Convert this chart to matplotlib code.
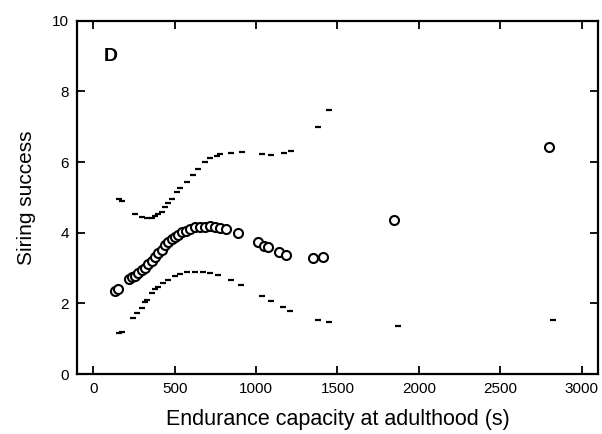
import matplotlib
matplotlib.use("Agg")
import matplotlib.pyplot as plt

plt.rcParams["font.family"] = ["Liberation Sans", "DejaVu Sans"]

# fitted siring success (circles)
fit_x = [135, 154, 221, 240, 258, 277, 301, 320, 338, 363, 381, 400, 424, 443,
         461, 486, 504, 523, 547, 572, 597, 627, 658, 689, 720, 750, 781, 818,
         892, 1013, 1046, 1075, 1144, 1187, 1353, 1414, 1845, 2798]
fit_y = [2.35, 2.41, 2.69, 2.75, 2.78, 2.86, 2.95, 3.00, 3.12, 3.20, 3.31, 3.43,
         3.51, 3.65, 3.74, 3.82, 3.88, 3.94, 4.02, 4.05, 4.11, 4.16, 4.16, 4.16,
         4.19, 4.16, 4.14, 4.11, 3.99, 3.74, 3.63, 3.59, 3.46, 3.37, 3.29, 3.31,
         4.36, 6.43]

# upper confidence limit (dashes)
upper_x = [160, 178, 258, 301, 332, 363, 381, 400, 424, 443, 461, 486, 517, 535,
           578, 615, 646, 689, 720, 763, 781, 843, 916, 1039, 1089, 1169, 1212,
           1378, 1446]
upper_y = [4.96, 4.90, 4.53, 4.45, 4.42, 4.42, 4.48, 4.53, 4.59, 4.73, 4.84, 4.96,
           5.16, 5.27, 5.44, 5.64, 5.81, 6.01, 6.12, 6.18, 6.23, 6.26, 6.29, 6.23,
           6.20, 6.26, 6.32, 7.00, 7.48]

# lower confidence limit (dashes)
lower_x = [160, 178, 246, 271, 301, 320, 332, 363, 381, 400, 431, 461, 504, 535,
           578, 627, 677, 720, 769, 843, 910, 1039, 1089, 1163, 1206, 1378, 1446,
           1870, 2823]
lower_y = [1.16, 1.19, 1.59, 1.73, 1.87, 2.04, 2.10, 2.29, 2.41, 2.46, 2.58, 2.66,
           2.78, 2.83, 2.89, 2.89, 2.89, 2.86, 2.80, 2.66, 2.52, 2.21, 2.07, 1.90,
           1.78, 1.53, 1.47, 1.36, 1.53]

x_ticks = [0, 500, 1000, 1500, 2000, 2500, 3000]
y_ticks = [0, 2, 4, 6, 8, 10]

fig = plt.figure(figsize=(6.02, 4.34), dpi=100)
ax = fig.add_axes([0.128, 0.138, 0.865, 0.814])

ax.plot(upper_x, upper_y, linestyle="none", marker="_", markersize=5,
        markeredgewidth=1.6, color="black")
ax.plot(lower_x, lower_y, linestyle="none", marker="_", markersize=5,
        markeredgewidth=1.6, color="black")
ax.plot(fit_x, fit_y, linestyle="none", marker="o", markersize=6.5,
        markerfacecolor="white", markeredgecolor="black", markeredgewidth=1.5)

ax.set_xlim(-100, 3100)
ax.set_ylim(0, 10)
ax.set_xticks(x_ticks)
ax.set_yticks(y_ticks)

for s in ax.spines.values():
    s.set_linewidth(1.6)
ax.tick_params(direction="in", length=6, width=1.3, top=True, right=True,
               labelsize=11, pad=6)

ax.set_xlabel("Endurance capacity at adulthood (s)", fontsize=15.5, labelpad=9)
ax.set_ylabel("Siring success", fontsize=15, labelpad=11)
ax.text(105, 9.0, "D", fontsize=14, fontweight="bold", ha="center", va="center")

fig.savefig("out.png", dpi=100)
